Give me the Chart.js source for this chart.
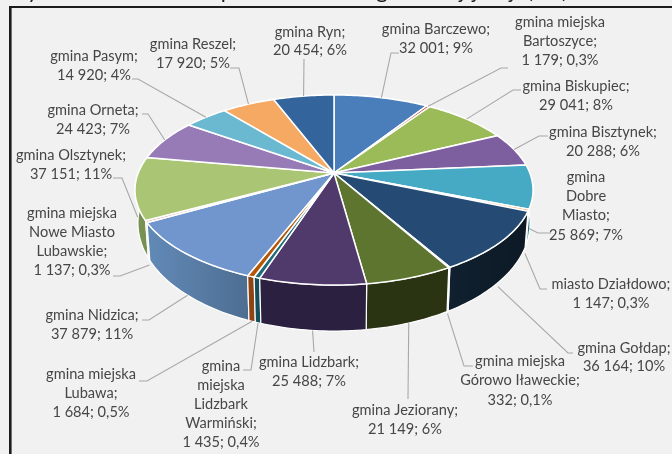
<!DOCTYPE html>
<html>
<head>
<meta charset="utf-8">
<style>
    html, body { margin: 0; padding: 0; background: #f1f1f1; overflow: hidden; }
    canvas { display: block; filter: blur(0.45px); }
</style>
</head>
<body>
<canvas id="pieChart" width="672" height="454"></canvas>
<script src="https://cdn.jsdelivr.net/npm/chart.js@4"></script>
<script>
// Data
const names = [
    ['gmina Barczewo;'],
    ['gmina miejska', 'Bartoszyce;'],
    ['gmina Biskupiec;'],
    ['gmina Bisztynek;'],
    ['gmina', 'Dobre', 'Miasto;'],
    ['miasto Działdowo;'],
    ['gmina Gołdap;'],
    ['gmina miejska', 'Górowo Iławeckie;'],
    ['gmina Jeziorany;'],
    ['gmina Lidzbark;'],
    ['gmina', 'miejska', 'Lidzbark', 'Warmiński;'],
    ['gmina miejska', 'Lubawa;'],
    ['gmina Nidzica;'],
    ['gmina miejska', 'Nowe Miasto', 'Lubawskie;'],
    ['gmina Olsztynek;'],
    ['gmina Orneta;'],
    ['gmina Pasym;'],
    ['gmina Reszel;'],
    ['gmina Ryn;']
];
const values = [32001, 1179, 29041, 20288, 25869, 1147, 36164, 332, 21149, 25488, 1435, 1684, 37879, 1137, 37151, 24423, 14920, 17920, 20454];
const shares = ['9%', '0,3%', '8%', '6%', '7%', '0,3%', '10%', '0,1%', '6%', '7%', '0,4%', '0,5%', '11%', '0,3%', '11%', '7%', '4%', '5%', '6%'];

// What is left of the cut-off title at the top edge
const titleGlyphs = ['y', 'p', 'g', 'j', 'j', 'j', '(', ')'];

// Slice colours
const COLORS = {
    top: ['#4a7ebb', '#c0504d', '#9bbb59', '#7d5fa0', '#46aac5', '#f79646', '#254a74', '#632523', '#5e7530', '#4f3a6b',
        '#1f6b7b', '#b65708', '#7096cd', '#d99694', '#aac574', '#967bb6', '#6ab9d0', '#f5a963', '#33659c'],
    side: ['#2f5480', '#803633', '#67803a', '#54406c', '#2f7386', '#1d5c68', '#10202f', '#3e1716', '#2a3312', '#2c2040',
        '#14505c', '#8f4412', '#6189b6', '#a86e6c', '#93b565', '#655284', '#478092', '#a87138', '#21436a'],
    label: '#464646',
    leader: '#a8a8a8',
    frame: '#1c1c1c',
    rim: '#ffffff'
};

// Label placement: centre x, first line y, line step
const labelSpots = [
    [436, 29, 19], [560, 22, 19], [576, 86, 19], [603, 132, 19], [586, 177, 19.3], [611, 284, 19], [624, 348, 18.5],
    [520, 361, 19.5], [405, 410, 19], [309, 362, 19], [221, 366, 19], [91, 374, 19], [92, 315, 19], [72, 213, 19],
    [71, 155, 19], [93, 110, 19], [94, 56, 19], [193, 44, 19], [310, 32, 18.5]
];
// Leader lines: label end x, y, elbow x, y, how far down the side wall it lands
const leaders = [
    [399, 53, 391, 53, 0], [508, 68, 501, 68, 0], [521, 90, 513, 90, 0], [548, 136, 539, 136, 0],
    [551, 233, 538, 233, 1.3], [547, 289, 540, 289, 1.2], [573, 353, 568, 353, 1.1], [473, 366, 464, 366, 1.05],
    [408, 399, 408, 399, 1], [314, 352, 314, 352, 1], [243, 370, 251, 370, 1], [139, 381, 147, 381, 1],
    [142, 320, 149, 320, 1], [113, 276, 120, 276, 1.15], [113, 178, 122, 178, 0.9], [142, 114, 148, 114, 0],
    [132, 79, 138, 79, 0], [230, 68, 239, 68, 0], [304, 59, 304, 59, 0]
];

// Tilted disc: front of the pie is nearer the viewer than the back
const DISC = { cx: 334, cy: 173, ax: 195.8, ay: 92, tilt: 0.179, wall: 30, wallFront: 16, inset: 0.015 };

function project(angle, drop) {
    const u = Math.cos(angle);
    const v = Math.sin(angle);
    const w = 1 - DISC.tilt * v;
    const x = DISC.ax * u / w;
    const y = DISC.ay * v / w;
    return {
        x: DISC.cx + x * (1 - DISC.inset * drop),
        y: DISC.cy + y + drop * (DISC.wall + DISC.wallFront * Math.max(v, 0))
    };
}

function rimPoints(start, end, drop) {
    const steps = Math.max(2, Math.ceil((end - start) / 0.02));
    const points = [];
    for (let i = 0; i <= steps; i++) {
        points.push(project(start + (end - start) * i / steps, drop));
    }
    return points;
}

function tracePoints(ctx, points, moveFirst) {
    points.forEach((p, i) => {
        if (i === 0 && moveFirst) ctx.moveTo(p.x, p.y);
        else ctx.lineTo(p.x, p.y);
    });
}

function drawWall(ctx, arc, index) {
    const upper = rimPoints(arc.startAngle, arc.endAngle, 0);
    const lower = rimPoints(arc.startAngle, arc.endAngle, 1).reverse();
    ctx.beginPath();
    tracePoints(ctx, upper, true);
    tracePoints(ctx, lower, false);
    ctx.closePath();
    ctx.fillStyle = COLORS.side[index];
    ctx.fill();
    // big front slices get darker towards one side
    if (values[index] > 30000) {
        const dark = ctx.createLinearGradient(lower[0].x, 0, lower[lower.length - 1].x, 0);
        dark.addColorStop(0, 'rgba(0,0,0,0)');
        dark.addColorStop(1, 'rgba(0,0,0,0.2)');
        ctx.fillStyle = dark;
        ctx.fill();
    }
    ctx.strokeStyle = COLORS.rim;
    ctx.lineWidth = 1.2;
    ctx.stroke();
}

function drawTop(ctx, arc) {
    ctx.beginPath();
    ctx.moveTo(DISC.cx, DISC.cy);
    tracePoints(ctx, rimPoints(arc.startAngle, arc.endAngle, 0), false);
    ctx.closePath();
    ctx.fillStyle = arc.options.backgroundColor;
    ctx.fill();
    ctx.strokeStyle = COLORS.rim;
    ctx.lineWidth = 1.5;
    ctx.stroke();
}

function drawLabels(ctx, arcs) {
    ctx.font = '14.6px Lato';
    ctx.textAlign = 'center';
    ctx.textBaseline = 'middle';
    arcs.forEach((arc, i) => {
        const [sx, sy, ex, ey, drop] = leaders[i];
        const end = project((arc.startAngle + arc.endAngle) / 2, drop);
        ctx.beginPath();
        ctx.moveTo(sx, sy);
        ctx.lineTo(ex, ey);
        ctx.lineTo(end.x, end.y);
        ctx.strokeStyle = COLORS.leader;
        ctx.lineWidth = 1.1;
        ctx.stroke();

        const [cx, first, step] = labelSpots[i];
        const amount = String(values[i]).replace(/(\d)(?=\d{3}$)/, '$1 ');
        const lines = names[i].concat(amount + '; ' + shares[i]);
        ctx.fillStyle = COLORS.label;
        lines.forEach((line, n) => ctx.fillText(line, cx, first + n * step));
    });
}

function drawFrame(ctx) {
    const glyphX = [33, 227, 382, 462, 475, 512, 530, 565];
    ctx.fillStyle = COLORS.frame;
    ctx.font = '22px Lato';
    ctx.textAlign = 'center';
    ctx.textBaseline = 'alphabetic';
    titleGlyphs.forEach((g, i) => ctx.fillText(g, glyphX[i], -2));
    ctx.fillRect(9, 6, 663, 2);
    ctx.fillRect(9, 6, 2.6, 448);
}

// Draws the pie from the library's own arc elements, in the tilted projection
const tiltedPie = {
    id: 'tiltedPie',
    beforeDatasetDraw(chart, args) {
        const ctx = chart.ctx;
        const arcs = chart.getDatasetMeta(args.index).data;
        const middle = (arc) => Math.sin((arc.startAngle + arc.endAngle) / 2);
        const order = arcs.map((arc, i) => i).sort((a, b) => middle(arcs[a]) - middle(arcs[b]));
        drawFrame(ctx);
        order.forEach((i) => drawWall(ctx, arcs[i], i));
        arcs.forEach((arc) => drawTop(ctx, arc));
        drawLabels(ctx, arcs);
        return false;
    }
};

new Chart(document.getElementById('pieChart').getContext('2d'), {
    type: 'pie',
    data: {
        labels: names.map((n) => n.join(' ')),
        datasets: [{
            data: values,
            backgroundColor: COLORS.top
        }]
    },
    options: {
        responsive: false,
        animation: false,
        plugins: {
            legend: { display: false },
            tooltip: { enabled: false }
        }
    },
    plugins: [tiltedPie]
});
</script>
</body>
</html>
